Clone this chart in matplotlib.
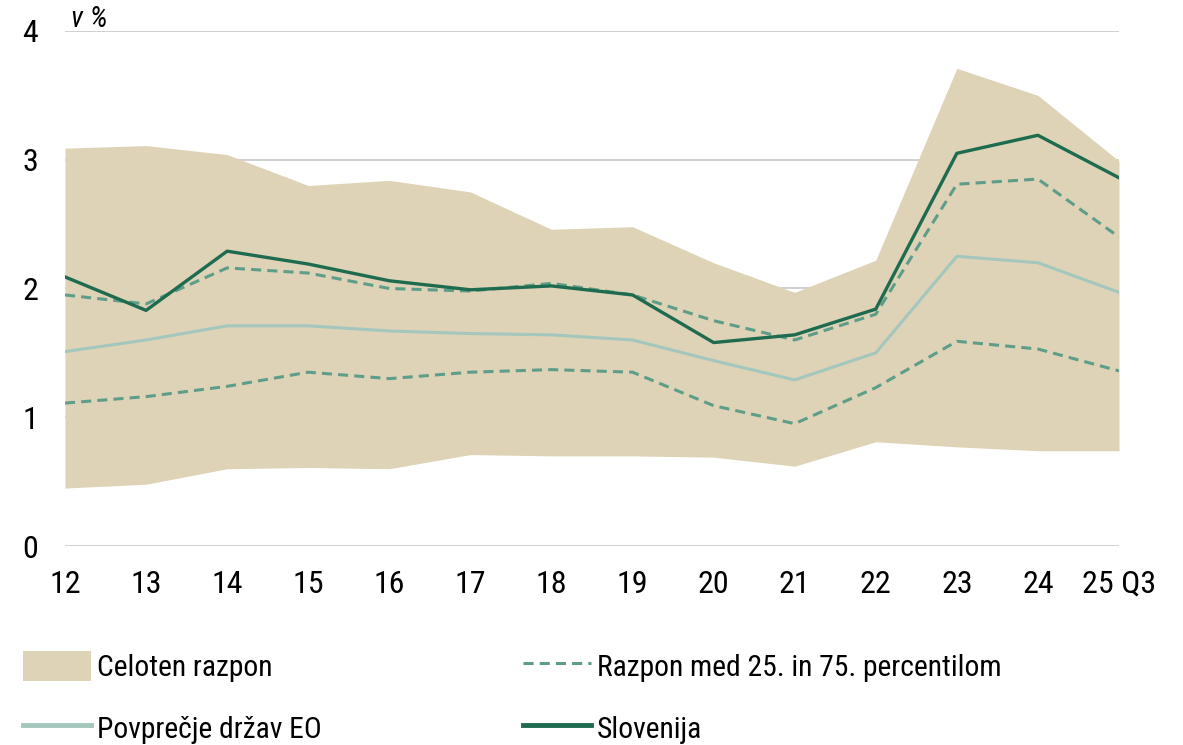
import matplotlib
matplotlib.use("Agg")
import matplotlib.pyplot as plt
from matplotlib.lines import Line2D
from matplotlib.patches import Patch

plt.rcParams['font.family'] = ['Roboto Condensed', 'Archivo Narrow', 'Liberation Sans', 'DejaVu Sans']

years = ["12", "13", "14", "15", "16", "17", "18", "19", "20", "21", "22", "23", "24", "25 Q3"]
band_max = [3.09, 3.11, 3.04, 2.80, 2.84, 2.75, 2.46, 2.48, 2.20, 1.97, 2.22, 3.71, 3.50, 2.99]
band_min = [0.45, 0.48, 0.60, 0.61, 0.60, 0.71, 0.70, 0.70, 0.69, 0.62, 0.81, 0.77, 0.74, 0.74]
p75 = [1.95, 1.88, 2.16, 2.12, 2.00, 1.98, 2.04, 1.95, 1.75, 1.60, 1.80, 2.81, 2.85, 2.40]
p25 = [1.11, 1.16, 1.24, 1.35, 1.30, 1.35, 1.37, 1.35, 1.09, 0.95, 1.23, 1.59, 1.53, 1.36]
mean_eo = [1.51, 1.60, 1.71, 1.71, 1.67, 1.65, 1.64, 1.60, 1.44, 1.29, 1.50, 2.25, 2.20, 1.97]
slovenia = [2.09, 1.83, 2.29, 2.19, 2.06, 1.99, 2.02, 1.95, 1.58, 1.64, 1.84, 3.05, 3.19, 2.86]

labels = ["Celoten razpon", "Razpon med 25. in 75. percentilom", "Povprečje držav EO", "Slovenija"]

c_band = "#DED3B6"
c_dash = "#5E9E89"
c_mean = "#A3C7BD"
c_slo = "#1E6B4F"
c_grid = "#C8C8C8"

W, H = 1183, 745
fig = plt.figure(figsize=(W / 100, H / 100), dpi=100)
ax = fig.add_axes([65 / W, (H - 546) / H, (1119 - 65) / W, (546 - 31) / H])

x = list(range(len(years)))
ax.fill_between(x, band_min, band_max, color=c_band, lw=0, zorder=1)
dash = (3.3, 2.0)
ax.plot(x, p75, color=c_dash, lw=2.2, dashes=dash, zorder=3)
ax.plot(x, p25, color=c_dash, lw=2.2, dashes=dash, zorder=3)
ax.plot(x, mean_eo, color=c_mean, lw=2.2, zorder=3)
ax.plot(x, slovenia, color=c_slo, lw=2.4, zorder=4)

ax.set_xlim(0, len(years) - 1)
ax.set_ylim(0, 4)
ax.set_yticks([0, 1, 2, 3, 4])
ax.set_xticks(x)
ax.set_xticklabels(years)
for s in ax.spines.values():
    s.set_visible(False)
ax.grid(axis='y', color=c_grid, lw=1.2, zorder=0)
ax.set_axisbelow(True)
ax.tick_params(axis='y', length=0, pad=25, labelsize=23)
ax.tick_params(axis='x', length=0, pad=17, labelsize=23)
for lab in ax.get_yticklabels():
    lab.set_horizontalalignment('center')

fig.text(71 / W, 1 - 19 / H, "v %", fontsize=21, style='italic', va='center', ha='left')

handles = [
    Patch(facecolor=c_band, edgecolor='none'),
    Line2D([], [], color=c_mean, lw=3.5),
    Line2D([], [], color=c_dash, lw=2.2, dashes=dash),
    Line2D([], [], color=c_slo, lw=3.5),
]
leg_labels = [labels[0], labels[2], labels[1], labels[3]]
fig.legend(handles, leg_labels, ncol=2, loc='upper left',
           bbox_to_anchor=(11 / W, 1 - 639 / H), frameon=False,
           fontsize=21.3, handlelength=2.3, handleheight=1.2, handletextpad=0.2,
           columnspacing=6.8, labelspacing=1.03, borderaxespad=0)

fig.savefig("out.png", dpi=100)
